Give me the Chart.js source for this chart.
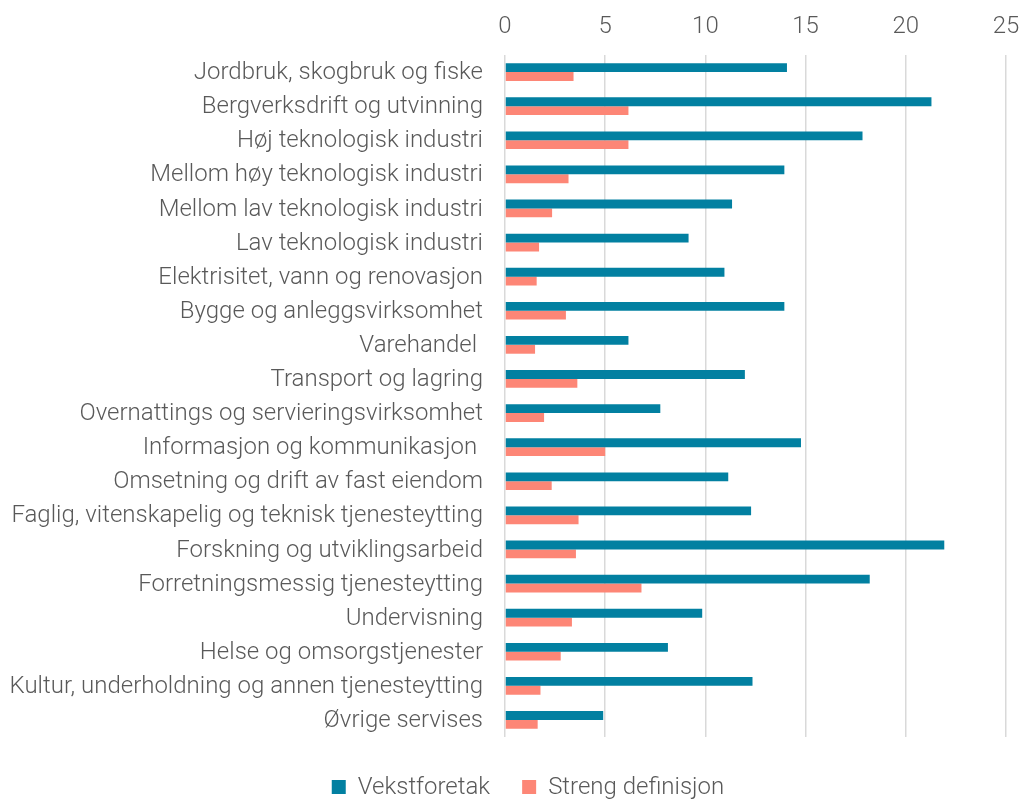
<!DOCTYPE html>
<html>
<head>
<meta charset="utf-8">
<script src="https://cdn.jsdelivr.net/npm/chart.js@4.4.1/dist/chart.umd.min.js"></script>
<style>
  html, body { margin: 0; padding: 0; background: #fff; }
  #wrap { width: 1023px; height: 801px; }
</style>
</head>
<body>
<div id="wrap"><canvas id="chart" width="1023" height="801"></canvas></div>
<script>
// Næringer
const naeringer = [
    'Jordbruk, skogbruk og fiske',
    'Bergverksdrift og utvinning',
    'Høj teknologisk industri',
    'Mellom høy teknologisk industri',
    'Mellom lav teknologisk industri',
    'Lav teknologisk industri',
    'Elektrisitet, vann og renovasjon',
    'Bygge og anleggsvirksomhet',
    'Varehandel ',
    'Transport og lagring',
    'Overnattings og servieringsvirksomhet',
    'Informasjon og kommunikasjon ',
    'Omsetning og drift av fast eiendom',
    'Faglig, vitenskapelig og teknisk tjenesteytting',
    'Forskning og utviklingsarbeid',
    'Forretningsmessig tjenesteytting',
    'Undervisning',
    'Helse og omsorgstjenester',
    'Kultur, underholdning og annen tjenesteytting',
    'Øvrige servises'
];

// Andel (%) per næring
const vekstforetak = [14.07, 21.28, 17.84, 13.94, 11.33, 9.16, 10.95, 13.94, 6.16, 11.97,
                      7.75, 14.77, 11.14, 12.28, 21.92, 18.2, 9.84, 8.13, 12.35, 4.9];
const strengDefinisjon = [3.42, 6.16, 6.16, 3.17, 2.35, 1.70, 1.58, 3.04, 1.50, 3.61,
                          1.95, 5.0, 2.33, 3.67, 3.54, 6.81, 3.34, 2.78, 1.77, 1.63];

const xTicks = [0, 5, 10, 15, 20, 25];

const tekstFarge = '#595959';
const skrift = { family: "'Roboto Light', Roboto, sans-serif", size: 24, weight: '300' };

// flytter legenden litt ned og mot høyre etter at layouten er beregnet
const legendeForskyvning = {
    id: 'legendeForskyvning',
    afterLayout(chart) {
        const l = chart.legend;
        if (!l) return;
        l.left += 25;
        l.right += 25;
        l.top += 6;
        l.bottom += 6;
    }
};

const ctx = document.getElementById('chart').getContext('2d');
new Chart(ctx, {
    type: 'bar',
    data: {
        labels: naeringer,
        datasets: [
            {
                label: 'Vekstforetak',
                data: vekstforetak,
                backgroundColor: '#0280a1',
                categoryPercentage: 0.52,
                barPercentage: 1.0
            },
            {
                label: 'Streng definisjon',
                data: strengDefinisjon,
                backgroundColor: '#fd8676',
                categoryPercentage: 0.52,
                barPercentage: 1.0
            }
        ]
    },
    plugins: [legendeForskyvning],
    options: {
        indexAxis: 'y',
        responsive: false,
        animation: false,
        layout: {
            padding: { left: 0, right: 17, top: 0, bottom: 0 }
        },
        plugins: {
            legend: {
                position: 'bottom',
                maxHeight: 64,
                labels: {
                    color: tekstFarge,
                    font: skrift,
                    boxWidth: 14,
                    boxHeight: 14,
                    padding: 32
                }
            },
            tooltip: { enabled: false }
        },
        scales: {
            x: {
                position: 'top',
                min: 0,
                max: 25,
                afterBuildTicks: (scale) => {
                    scale.ticks = xTicks.map(v => ({ value: v }));
                },
                afterFit: (scale) => {
                    scale.height = 55;
                    scale.paddingLeft = 0;
                    scale.paddingRight = 0;
                },
                border: { display: false },
                grid: {
                    color: '#d9d9d9',
                    lineWidth: 1.5,
                    drawTicks: false
                },
                ticks: {
                    color: tekstFarge,
                    font: skrift,
                    padding: 15
                }
            },
            y: {
                afterFit: (scale) => { scale.width = 505; },
                border: { display: false },
                grid: { display: false, drawTicks: false },
                ticks: {
                    color: tekstFarge,
                    font: skrift,
                    padding: 22,
                    autoSkip: false
                }
            }
        }
    }
});
</script>
</body>
</html>
